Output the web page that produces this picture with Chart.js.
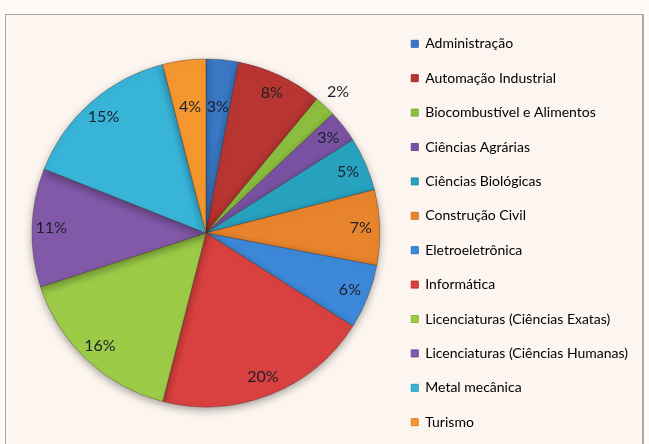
<!DOCTYPE html>
<html>
<head>
<meta charset="utf-8">
<script src="https://cdn.jsdelivr.net/npm/chart.js@4"></script>
<style>
  html, body { margin: 0; padding: 0; width: 649px; height: 444px; overflow: hidden; background: #fdfaf8; }
  #frame { position: absolute; left: 5px; top: 14px; width: 639px; height: 440px; border: 1px solid #a8a8a8; border-right-width: 2px; background: #fdf6f0; box-sizing: border-box; }
  #wrap { position: absolute; left: 0; top: 11px; width: 649px; height: 444px; }
</style>
</head>
<body>
<div id="frame"></div>
<div id="wrap"><canvas id="c" width="649" height="444"></canvas></div>
<script>
const categories = [
  "Administração",
  "Automação Industrial",
  "Biocombustível e Alimentos",
  "Ciências Agrárias",
  "Ciências Biológicas",
  "Construção Civil",
  "Eletroeletrônica",
  "Informática",
  "Licenciaturas (Ciências Exatas)",
  "Licenciaturas (Ciências Humanas)",
  "Metal mecânica",
  "Turismo"
];
const percentages = [3, 8, 2, 3, 5, 7, 6, 20, 16, 11, 15, 4];
const sliceColors = [
  "#3b78c6", "#b83532", "#8cbf3f", "#7a52a3", "#27a3c0", "#e8842c",
  "#3d88d8", "#d8413f", "#9ccb48", "#8259a9", "#38b4d8", "#f5962e"
];
const legendColors = [
  "#2f66b0", "#a8292a", "#7fae36", "#6a4693", "#1f90ad", "#d8731f",
  "#2f72c0", "#c22f2d", "#86b43a", "#6e4896", "#2a9cc0", "#e0801e"
];

const labelPlugin = {
  id: 'pctLabels',
  afterDatasetsDraw(chart) {
    const ctx = chart.ctx;
    const meta = chart.getDatasetMeta(0);
    ctx.save();
    ctx.font = '16px Lato, "Open Sans", sans-serif';
    ctx.fillStyle = '#1b1f2a';
    ctx.textAlign = 'center';
    ctx.textBaseline = 'middle';
    meta.data.forEach((arc, i) => {
      const p = arc.getProps(['x', 'y', 'startAngle', 'endAngle', 'outerRadius'], true);
      const mid = (p.startAngle + p.endAngle) / 2;
      let f = 0.89;
      const v = percentages[i];
      if (v <= 2) f = 1.11;
      else if ((i === 0 || i === percentages.length - 1)) f = 0.73;
      const r = p.outerRadius * f;
      ctx.fillText(v + '%', p.x + Math.cos(mid) * r, p.y + Math.sin(mid) * r);
    });
    ctx.restore();
  }
};

const shadowPlugin = {
  id: 'pieShadow',
  beforeDatasetsDraw(chart) {
    const ctx = chart.ctx;
    ctx.save();
    ctx.shadowColor = 'rgba(0,0,0,0.35)';
    ctx.shadowBlur = 8;
    ctx.shadowOffsetY = 3;
  },
  afterDatasetsDraw(chart) {
    chart.ctx.restore();
  }
};

new Chart(document.getElementById('c'), {
  type: 'pie',
  data: {
    labels: categories,
    datasets: [{
      data: percentages,
      backgroundColor: sliceColors,
      borderColor: 'rgba(60,40,30,0.35)',
      borderWidth: 1,
      radius: 174
    }]
  },
  options: {
    responsive: false,
    animation: false,
    layout: { padding: { top: 0, bottom: 0, left: 21, right: 11 } },
    plugins: {
      tooltip: { enabled: false },
      legend: {
        position: 'right',
        align: 'center',
        labels: {
          boxWidth: 7,
          boxHeight: 7,
          padding: 20.4,
          color: '#222',
          font: { family: 'Lato, "Open Sans", sans-serif', size: 14 },
          generateLabels(chart) {
            return categories.map((t, i) => ({
              text: t,
              fillStyle: sliceColors[i],
              strokeStyle: legendColors[i],
              lineWidth: 1,
              index: i,
              hidden: false
            }));
          }
        }
      }
    }
  },
  plugins: [shadowPlugin, labelPlugin]
});
</script>
</body>
</html>
